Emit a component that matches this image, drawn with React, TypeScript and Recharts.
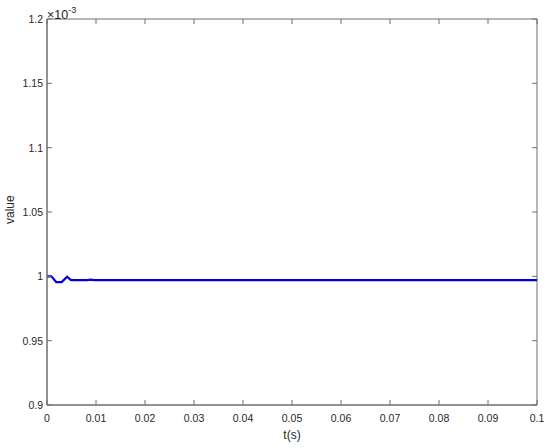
import React from "react";
import { LineChart, Line, XAxis, YAxis, ReferenceArea, ReferenceLine } from "recharts";

// values are in units of 1e-3 (axis multiplier shown top-left)
const times = [0, 0.0009, 0.0019, 0.003, 0.0041, 0.0049, 0.0082, 0.0089, 0.0096, 0.03, 0.06, 0.1];
const values = [1.0, 1.0, 0.9955, 0.9955, 0.9997, 0.997, 0.997, 0.9975, 0.997, 0.997, 0.997, 0.997];

const xTicks = [0, 0.01, 0.02, 0.03, 0.04, 0.05, 0.06, 0.07, 0.08, 0.09, 0.1];
const yTicks = [0.9, 0.95, 1, 1.05, 1.1, 1.15, 1.2];

const X_DOMAIN: [number, number] = [0, 0.1];
const Y_DOMAIN: [number, number] = [0.9, 1.2];
// length of the mirrored ticks on the top / right edges, in data units (~5px)
const X_TICK_LEN = 0.001;
const Y_TICK_LEN = 0.0039;

const data = times.map((t, i) => ({ t, v: values[i] }));

const AXIS = "#6e6e6e";
const TEXT = "#262626";
const FONT = "'Liberation Sans', Arial, Helvetica, sans-serif";

function fmt(v: number): string {
  return String(Number(v.toFixed(4)));
}

// eslint-disable-next-line @typescript-eslint/no-explicit-any
function BottomTick({ x, y, payload }: any) {
  return (
    <g>
      <line x1={x} y1={y} x2={x} y2={y - 5} stroke={AXIS} strokeWidth={1} />
      <text x={x} y={y + 17} textAnchor="middle" fontSize={10.5} fill={TEXT} fontFamily={FONT}>
        {fmt(payload.value)}
      </text>
    </g>
  );
}

// eslint-disable-next-line @typescript-eslint/no-explicit-any
function LeftTick({ x, y, payload }: any) {
  return (
    <g>
      <line x1={x} y1={y} x2={x + 5} y2={y} stroke={AXIS} strokeWidth={1} />
      <text x={x - 4} y={y + 4} textAnchor="end" fontSize={10.5} fill={TEXT} fontFamily={FONT}>
        {fmt(payload.value)}
      </text>
    </g>
  );
}

export default function App() {
  return (
    <div style={{ position: "absolute", left: 0, top: 0, width: 550, height: 448, background: "#fff" }}>
      <LineChart
        width={550}
        height={448}
        data={data}
        margin={{ top: 19, right: 13, left: 0, bottom: 0 }}
      >
        <XAxis
          dataKey="t"
          type="number"
          domain={X_DOMAIN}
          ticks={xTicks}
          tickSize={0}
          tickMargin={0}
          height={43}
          stroke={AXIS}
          tick={<BottomTick />}
          interval={0}
          label={{ value: "t(s)", position: "insideBottom", offset: 9, fontSize: 12, fill: TEXT, fontFamily: FONT }}
        />
        <YAxis
          type="number"
          domain={Y_DOMAIN}
          ticks={yTicks}
          tickSize={0}
          tickMargin={0}
          width={47}
          stroke={AXIS}
          tick={<LeftTick />}
          interval={0}
          allowDataOverflow
          label={{ value: "value", angle: -90, position: "insideLeft", offset: 10, dy: 12, fontSize: 12, fill: TEXT, fontFamily: FONT }}
        />

        {/* box around the plot area */}
        <ReferenceArea
          x1={X_DOMAIN[0]}
          x2={X_DOMAIN[1]}
          y1={Y_DOMAIN[0]}
          y2={Y_DOMAIN[1]}
          fill="none"
          fillOpacity={0}
          stroke={AXIS}
          strokeWidth={1}
          ifOverflow="visible"
        />

        {/* mirrored ticks on top edge */}
        {xTicks.map((t) => (
          <ReferenceLine
            key={`top-${t}`}
            segment={[
              { x: t, y: Y_DOMAIN[1] },
              { x: t, y: Y_DOMAIN[1] - Y_TICK_LEN },
            ]}
            stroke={AXIS}
            strokeWidth={1}
            ifOverflow="visible"
          />
        ))}

        {/* mirrored ticks on right edge */}
        {yTicks.map((v) => (
          <ReferenceLine
            key={`right-${v}`}
            segment={[
              { x: X_DOMAIN[1], y: v },
              { x: X_DOMAIN[1] - X_TICK_LEN, y: v },
            ]}
            stroke={AXIS}
            strokeWidth={1}
            ifOverflow="visible"
          />
        ))}

        <Line
          type="linear"
          dataKey="v"
          stroke="#0000d8"
          strokeWidth={2.2}
          dot={false}
          isAnimationActive={false}
        />
      </LineChart>
      <div
        style={{
          position: "absolute",
          left: 47,
          top: 4,
          fontFamily: FONT,
          fontSize: 12.5,
          color: TEXT,
          lineHeight: "14px",
        }}
      >
        ×10<sup style={{ fontSize: 9, position: "relative", top: -1 }}>-3</sup>
      </div>
    </div>
  );
}
